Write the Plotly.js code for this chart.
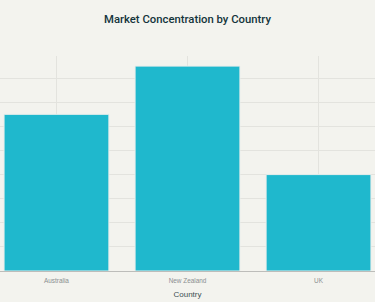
<!DOCTYPE html>
<html>
<head>
<meta charset="utf-8">
<script src="https://cdn.plot.ly/plotly-3.0.1.min.js"></script>
<style>
html,body{margin:0;padding:0;background:#F3F3EE;}
#chart{width:375px;height:302px;}
</style>
</head>
<body>
<div id="chart"></div>
<script>
const countries = ["Australia", "New Zealand", "UK"];
const concentration = [65, 85, 40];
const chartTitle = "Market Concentration by Country";
const xTitle = "Country";

const trace = {
  type: "bar",
  x: countries,
  y: concentration,
  marker: {color: "#1FB8CD", line: {color: "#E8EEEC", width: 1}},
  hoverinfo: "x+y"
};

const layout = {
  width: 375,
  height: 302,
  paper_bgcolor: "#F3F3EE",
  plot_bgcolor: "#F3F3EE",
  margin: {l: 0, r: 0, t: 56, b: 31, pad: 0},
  bargap: 0.2,
  showlegend: false,
  font: {family: "Liberation Sans, Arial, sans-serif", color: "#13343B"},
  title: {
    text: chartTitle,
    font: {size: 11.3, color: "#13343B", family: "Roboto, Liberation Sans, sans-serif", weight: 500},
    x: 0.5, xanchor: "center",
    y: 1 - 19/302, yanchor: "middle", yref: "container"
  },
  xaxis: {
    range: [-0.431, 2.431],
    showgrid: true,
    gridcolor: "#E3E3DE",
    gridwidth: 1,
    showline: true,
    linecolor: "#BDBDBA",
    linewidth: 1,
    ticks: "",
    ticklabelstandoff: 3,
    tickfont: {size: 6.4, color: "#8A8F90"},
    title: {text: xTitle, font: {size: 8, color: "#3D4F52"}, standoff: 8}
  },
  yaxis: {
    range: [0, 89.2],
    dtick: 10,
    showgrid: true,
    gridcolor: "#E3E3DE",
    gridwidth: 1,
    zeroline: false,
    showticklabels: false,
    ticks: ""
  }
};

Plotly.newPlot("chart", [trace], layout, {displayModeBar: false, staticPlot: true});
</script>
</body>
</html>
